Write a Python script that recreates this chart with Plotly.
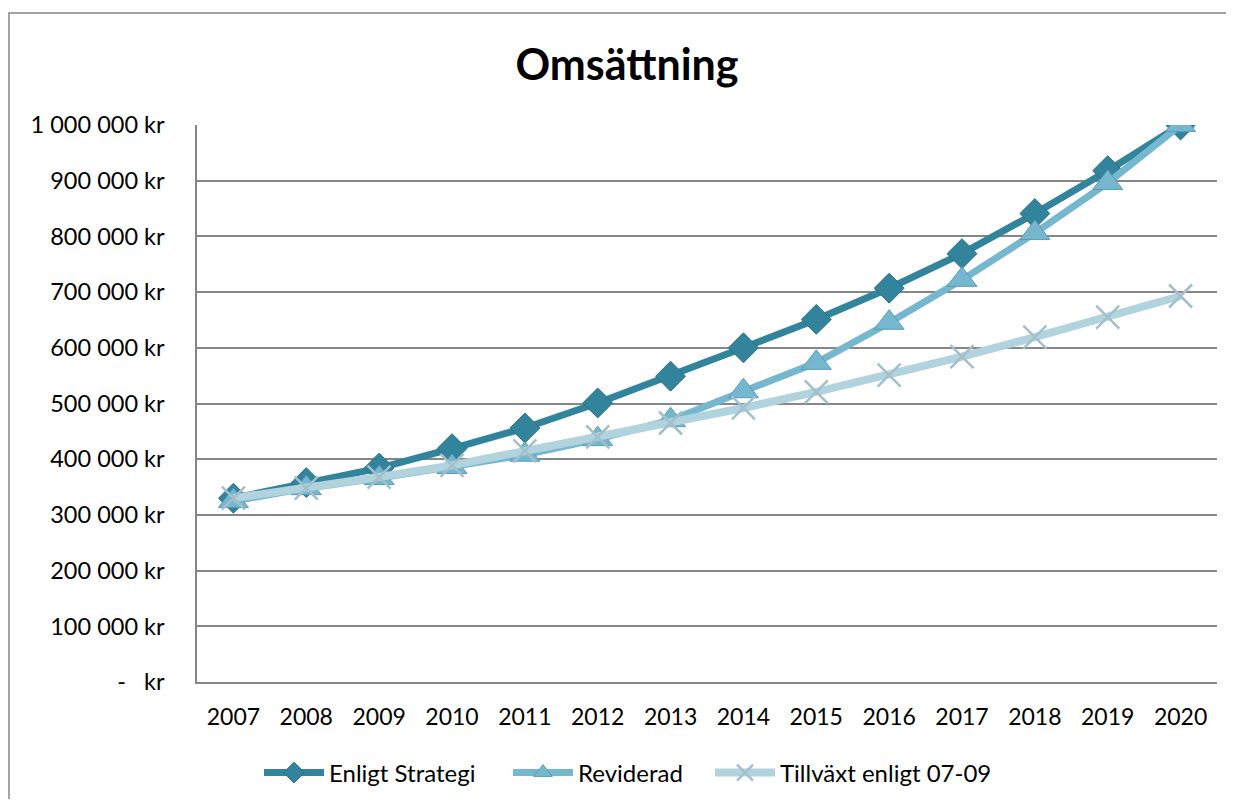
import plotly.graph_objects as go

years = ["2007", "2008", "2009", "2010", "2011", "2012", "2013",
         "2014", "2015", "2016", "2017", "2018", "2019", "2020"]
enligt_strategi = [330000, 358000, 384000, 419000, 456000, 501000, 549000,
                   600000, 651000, 707000, 769000, 841000, 918000, 1000000]
reviderad = [325000, 348000, 366000, 386000, 408000, 436000, 470000,
             522000, 573000, 645000, 722000, 806000, 896000, 1000000]
tillvaxt = [330000, 348000, 368000, 389000, 415000, 440000, 465000,
            492000, 521000, 551000, 584000, 619000, 655000, 693000]
y_tickvals = [0, 100000, 200000, 300000, 400000, 500000,
              600000, 700000, 800000, 900000, 1000000]
y_ticktext = ["-\u00a0\u00a0\u00a0kr", "100 000 kr", "200 000 kr", "300 000 kr",
              "400 000 kr", "500 000 kr", "600 000 kr", "700 000 kr",
              "800 000 kr", "900 000 kr", "1 000 000 kr"]

FONT = "Lato"
# page body has an 8px margin, so work in figure coordinates = screen - 8
W, H = 1218, 791
L, R, T, B = 189, 9, 117, 117
pw, ph = W - L - R, H - T - B

fig = go.Figure()
fig.add_trace(go.Scatter(
    x=years, y=enligt_strategi, name="Enligt Strategi", mode="lines+markers",
    line=dict(color="#31849B", width=7), legendwidth=174,
    marker=dict(symbol="diamond", size=23, color="#31849B",
                line=dict(color="#2A7386", width=1))))
fig.add_trace(go.Scatter(
    x=years, y=reviderad, name="Reviderad", mode="lines+markers",
    line=dict(color="#74B7CE", width=7), legendwidth=127,
    marker=dict(symbol="triangle-up", size=26, color="#74B7CE",
                line=dict(color="#5B9DB3", width=1))))
fig.add_trace(go.Scatter(
    x=years, y=tillvaxt, name="Tillväxt enligt 07-09", mode="lines+markers",
    line=dict(color="#B0D3DE", width=8),
    marker=dict(symbol="x-thin", size=23, color="#A3BFCA",
                line=dict(color="#A3BFCA", width=2.5))))

fig.update_layout(
    width=W, height=H,
    margin=dict(l=L, r=R, t=T, b=B, autoexpand=False),
    paper_bgcolor="white", plot_bgcolor="white",
    font=dict(family=FONT, color="black", size=23),
    title=dict(text="<b>Omsättning</b>", x=619 / W, xanchor="center",
               y=1 - 57 / H, yanchor="middle",
               font=dict(family=FONT, size=43, color="black")),
    showlegend=True,
    legend=dict(orientation="h", x=(251 - L) / pw, xanchor="left",
                y=(674 - 765) / ph, yanchor="middle",
                font=dict(family=FONT, size=24, color="black"),
                itemwidth=60, traceorder="normal"),
    xaxis=dict(type="category", range=[-0.5, len(years) - 0.5],
               showgrid=False, showline=True,
               linecolor="#868686", linewidth=1.5, ticks="",
               ticklabelstandoff=14, tickfont=dict(size=23)),
    yaxis=dict(range=[0, 1000000], tickvals=y_tickvals, ticktext=y_ticktext,
               showgrid=True, gridcolor="#868686", gridwidth=1.5,
               showline=True, linecolor="#868686", linewidth=1.5,
               zeroline=False, ticks="", ticklabelstandoff=26,
               tickfont=dict(size=23.5)),
)

# outer chart border
fig.add_shape(type="rect", xref="paper", yref="paper",
              x0=(1 - L) / pw, x1=(1260 - L) / pw,
              y0=(674 - 830) / ph, y1=(674 - 5) / ph,
              line=dict(color="#868686", width=1.5), fillcolor="rgba(0,0,0,0)",
              layer="below")

fig.write_html("out.html")
